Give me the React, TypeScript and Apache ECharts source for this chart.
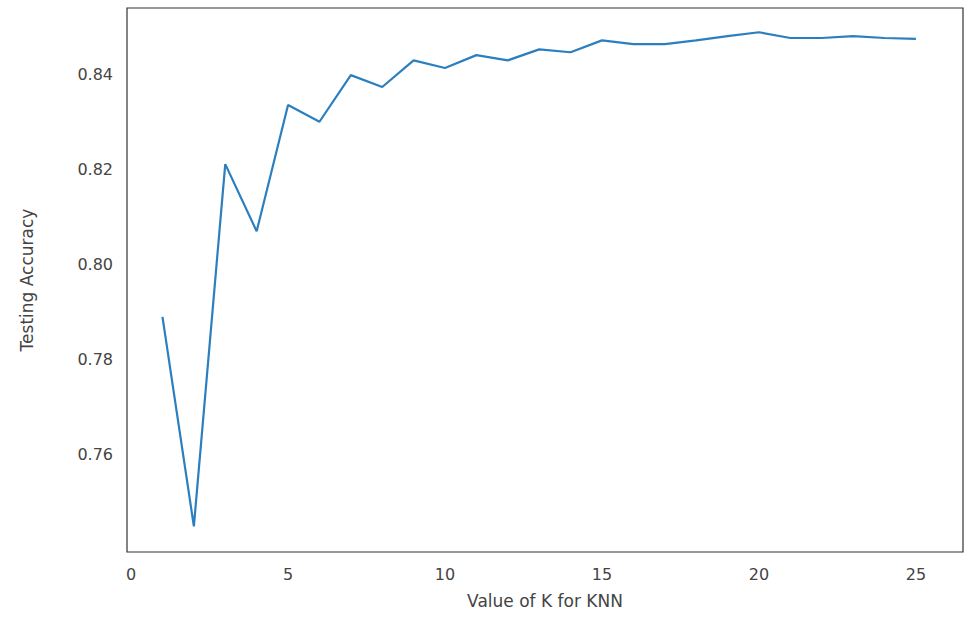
import { useEffect, useRef } from "react";
import * as echarts from "echarts";

const kValues = [1, 2, 3, 4, 5, 6, 7, 8, 9, 10, 11, 12, 13, 14, 15, 16, 17, 18, 19, 20, 21, 22, 23, 24, 25];
const accuracy = [
  0.789, 0.745, 0.8211, 0.807, 0.8335, 0.830, 0.8398, 0.8373, 0.8429, 0.8413,
  0.844, 0.8429, 0.8452, 0.8446, 0.8471, 0.8463, 0.8463, 0.8471, 0.848, 0.8488,
  0.8476, 0.8476, 0.848, 0.8476, 0.8474,
];
const xTicks = [0, 5, 10, 15, 20, 25];
const yTicks = [0.76, 0.78, 0.8, 0.82, 0.84];

export default function App() {
  const chartRef = useRef<HTMLDivElement>(null);

  useEffect(() => {
    document.body.style.margin = "0";
    if (!chartRef.current) return;
    const chart = echarts.init(chartRef.current, undefined, { renderer: "svg" });
    const font = "'DejaVu Sans', sans-serif";

    chart.setOption({
      animation: false,
      grid: { left: 127, right: 13, top: 8, bottom: 74, show: true, borderColor: "#333", borderWidth: 1.2 },
      xAxis: {
        type: "value",
        min: -0.13,
        max: 26.5,
        name: "Value of K for KNN",
        nameLocation: "middle",
        nameGap: 40,
        nameTextStyle: { fontSize: 17, color: "#444", fontFamily: font },
        splitLine: { show: false },
        axisTick: { show: false, customValues: xTicks },
        axisLine: { show: false },
        axisLabel: { customValues: xTicks, fontSize: 16, color: "#444", fontFamily: font, margin: 14 },
      },
      yAxis: {
        type: "value",
        min: 0.7396,
        max: 0.8539,
        name: "Testing Accuracy",
        nameLocation: "middle",
        nameGap: 92,
        nameTextStyle: { fontSize: 17, color: "#444", fontFamily: font },
        splitLine: { show: false },
        axisTick: { show: false, customValues: yTicks },
        axisLine: { show: false },
        axisLabel: {
          customValues: yTicks,
          fontSize: 16,
          color: "#444",
          fontFamily: font,
          margin: 14,
          formatter: (v: number) => v.toFixed(2),
        },
      },
      series: [
        {
          type: "line",
          data: kValues.map((k, i) => [k, accuracy[i]]),
          showSymbol: false,
          lineStyle: { color: "#2b7fbf", width: 2.2 },
        },
      ],
    });

    return () => {
      chart.dispose();
    };
  }, []);

  return <div ref={chartRef} style={{ width: "976px", height: "626px" }} />;
}
